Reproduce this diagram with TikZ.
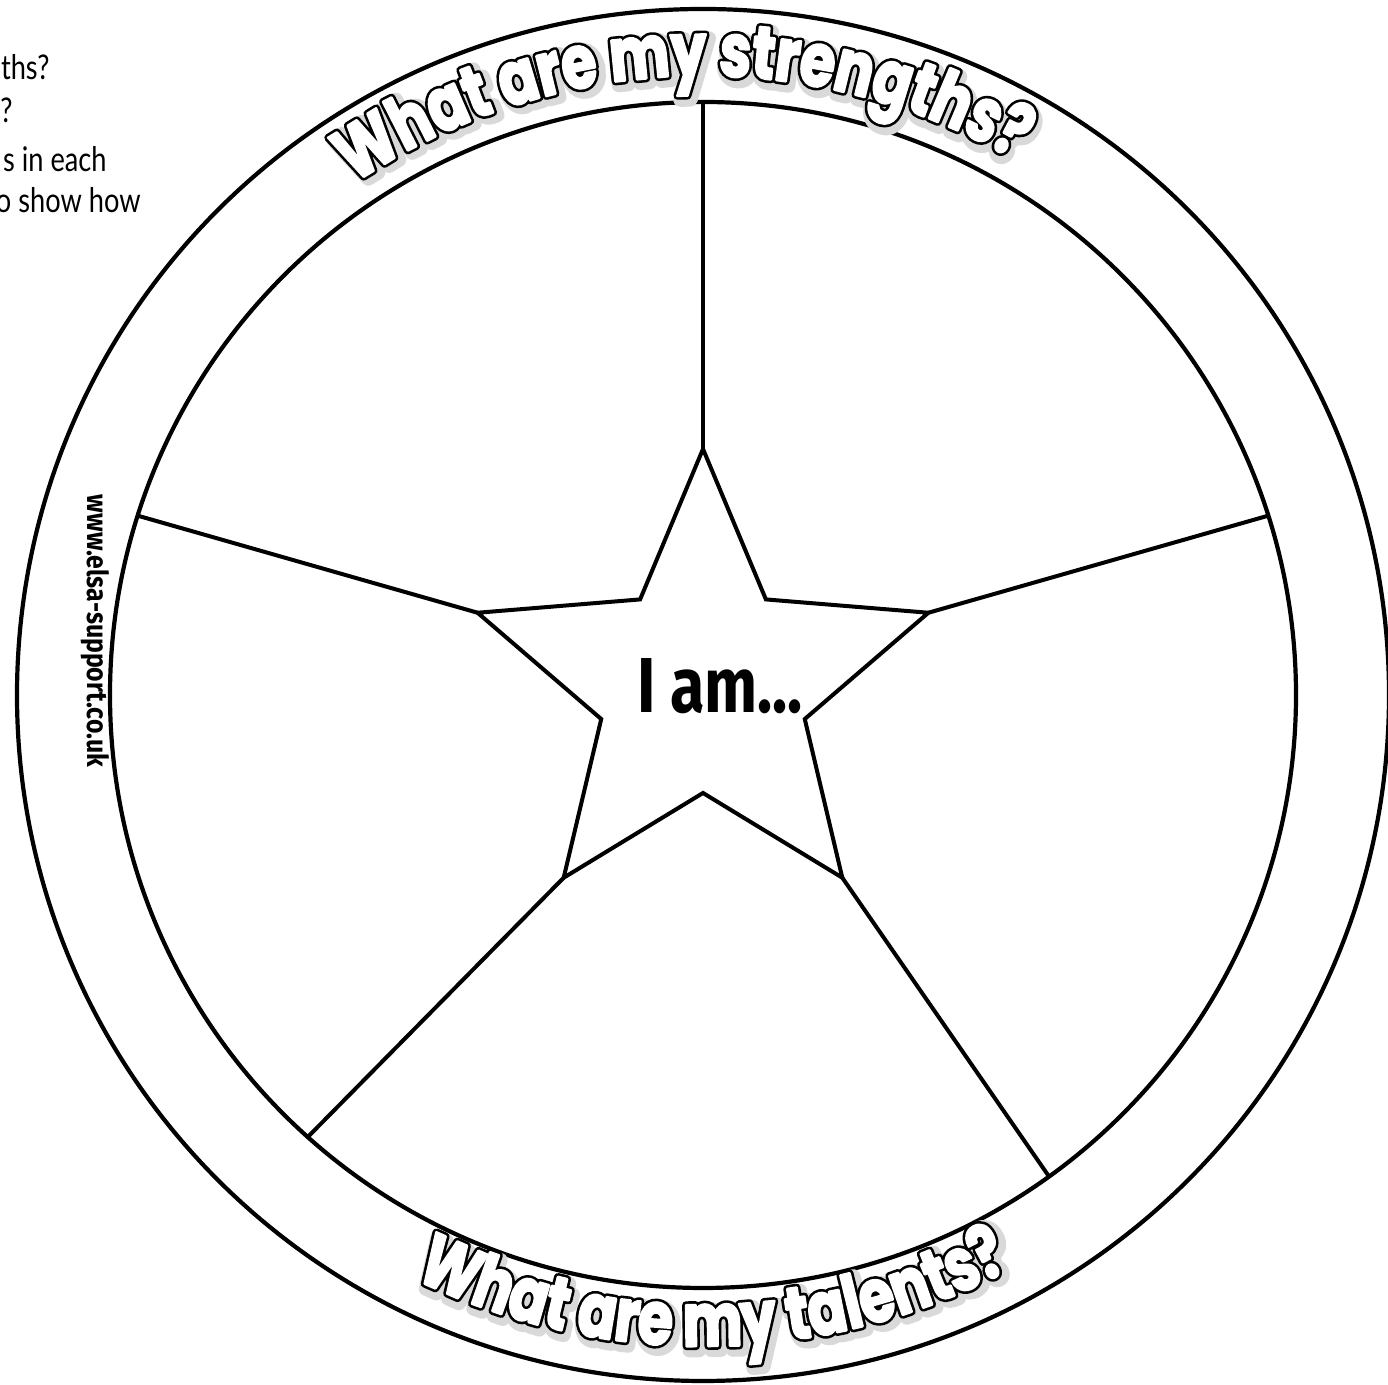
\documentclass[tikz,border=0pt]{standalone}
\usepackage{fontspec}
\usepackage{graphicx}
\usetikzlibrary{decorations.text}
\newfontfamily\arcfont{Poppins}[FakeStretch=0.76]
\newfontfamily\notefont{Lato}
\newfontfamily\urlfont{Fira Sans}
% letters drawn in fill + stroke render mode: shadow, black edge, white body
\newcommand\shadechar[1]{{\color{black!15}\special{pdf:literal direct 7 w 1 j 2 Tr}#1\special{pdf:literal direct 0 Tr}}}
\newcommand\edgechar[1]{{\color{black}\special{pdf:literal direct 3.8 w 1 j 2 Tr}#1\special{pdf:literal direct 0 Tr}}}
\newcommand\bodychar[1]{{\color{white}\special{pdf:literal direct 1.2 w 1 j 2 Tr}#1\special{pdf:literal direct 0 Tr}}}
\tikzset{
  ringline/.style={line width=2.1pt, draw=black},
  spokeline/.style={line width=2pt, draw=black, line join=miter},
  notetext/.style={anchor=base east, inner sep=0pt, font=\notefont\fontsize{17}{20}\selectfont},
  arcshade/.style={decoration={text effects along path, text={#1}, text align=center,
      text effects/.cd, text along path,
      characters={font=\arcfont\bfseries\fontsize{37}{44}\selectfont, xshift=1.5pt, yshift=-2pt},
      character command=\shadechar}, decorate},
  arcedge/.style={decoration={text effects along path, text={#1}, text align=center,
      text effects/.cd, text along path,
      characters={font=\arcfont\bfseries\fontsize{37}{44}\selectfont},
      character command=\edgechar}, decorate},
  arcbody/.style={decoration={text effects along path, text={#1}, text align=center,
      text effects/.cd, text along path,
      characters={font=\arcfont\bfseries\fontsize{37}{44}\selectfont},
      character command=\bodychar}, decorate},
}
\begin{document}
\begin{tikzpicture}[x=0.5pt, y=0.5pt]
\useasboundingbox (0,0) rectangle (1388,1385);
\fill[white] (0,0) rectangle (1388,1385);
% centres
\coordinate (C) at (703,690);
\coordinate (SC) at (703,699);
% rings
\draw[ringline] (C) circle[radius=686];
\draw[ringline] (C) circle[radius=593];
% star vertices
\foreach \i/\a in {0/90,1/18,2/-54,3/-126,4/162}
  \coordinate (P\i) at ([shift={(SC)}]\a:237);
\foreach \i/\a in {0/54,1/-18,2/-90,3/-162,4/126}
  \coordinate (Q\i) at ([shift={(SC)}]\a:107);
% spoke ends on inner ring
\foreach \i/\a in {0/90,1/17.6,2/-54.3,3/-131.8,4/162.4}
  \coordinate (E\i) at ([shift={(C)}]\a:593);
\draw[spokeline] (P0)--(Q0)--(P1)--(Q1)--(P2)--(Q2)--(P3)--(Q3)--(P4)--(Q4)--cycle;
\foreach \i in {0,...,4}
  \draw[spokeline] (P\i) -- (E\i);
% centre text
\node[inner sep=0pt, anchor=base] (iam) at (720,672)
  {\resizebox{83pt}{27pt}{\urlfont\bfseries I am...}};
% web address
\node[inner sep=0pt, rotate=-90] (url) at (95,754)
  {\resizebox{136pt}{11pt}{\urlfont\bfseries www.elsa-support.co.uk}};
% curved headings: shadow, edge, body
\path[arcshade={What are my strengths?}] ([shift={(C)}]152:619) arc[start angle=152, end angle=32, radius=619];
\path[arcshade={What are my talents?}] ([shift={(C)}]211:651) arc[start angle=211, end angle=331, radius=651];
\path[arcedge={What are my strengths?}] ([shift={(C)}]152:619) arc[start angle=152, end angle=32, radius=619];
\path[arcedge={What are my talents?}] ([shift={(C)}]211:651) arc[start angle=211, end angle=331, radius=651];
\path[arcbody={What are my strengths?}] ([shift={(C)}]152:619) arc[start angle=152, end angle=32, radius=619];
\path[arcbody={What are my talents?}] ([shift={(C)}]211:651) arc[start angle=211, end angle=331, radius=651];
% clipped note text at top left
\node[notetext] (n1) at (50,1305) {\scalebox{0.8}[1]{ths?}};
\node[notetext] (n2) at (13,1262) {\scalebox{0.8}[1]{?}};
\node[notetext] (n3) at (107,1213) {\scalebox{0.8}[1]{s in each}};
\node[notetext] (n4) at (141,1172) {\scalebox{0.8}[1]{o show how}};
\end{tikzpicture}
\end{document}
